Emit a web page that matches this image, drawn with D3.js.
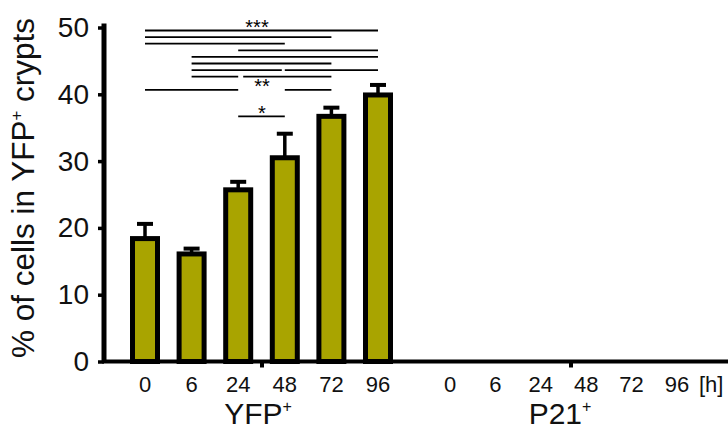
<html lang="en">
<head>
<meta charset="utf-8">
<title>YFP crypts</title>
<script src="https://d3js.org/d3.v7.min.js"></script>
<style>
  body { margin: 0; background: #fff; }
  svg { display: block; font-family: "Liberation Sans", Arial, sans-serif; }
</style>
</head>
<body>
<svg id="chart" width="728" height="431"></svg>
<script>
// hours, shared by both groups
var hours = ["0", "6", "24", "48", "72", "96"];
// YFP+ group: bar means and upper error
var yfpMean = [18.4, 16.1, 25.7, 30.5, 36.7, 39.9];
var yfpErr = [2.2, 0.8, 1.2, 3.6, 1.3, 1.5];
var yTicks = [0, 10, 20, 30, 40, 50];
// significance brackets: [from bar, to bar, row]
var sigLines = [
  ["0", "96", 0], ["0", "72", 1], ["0", "48", 2], ["24", "96", 3],
  ["6", "96", 4], ["6", "72", 5], ["6", "48", 6], ["48", "96", 6],
  ["6", "24", 7], ["24", "72", 7], ["0", "24", 9], ["48", "72", 9],
  ["24", "48", 13]
];
var sigLabels = [["***", 0, 257], ["**", 9, 262], ["*", 13, 262]];

var svg = d3.select("#chart");
var y = d3.scaleLinear().domain([0, 50]).range([361.5, 27.5]);
var xY = d3.scalePoint().domain(hours).range([145, 378]);
var xP = d3.scalePoint().domain(hours).range([450, 677]);
var rowY = function (r) { return 30.5 + r * 6.6; };

// y axis
var yAxis = svg.append("g").attr("transform", "translate(104,0)")
  .call(d3.axisLeft(y).tickValues(yTicks).tickSize(6).tickPadding(9));
yAxis.select(".domain").attr("stroke-width", 5).attr("d", "M0," + (y(50) - 4) + "V" + y(0));
yAxis.selectAll(".tick line").attr("stroke-width", 3.5);
yAxis.selectAll(".tick text").attr("font-size", 28).attr("fill", "#111")
  .attr("font-family", "Liberation Sans, Arial, sans-serif");

// y title
svg.append("text")
  .attr("transform", "translate(34,188) rotate(-90)")
  .attr("text-anchor", "middle")
  .attr("font-size", 31.5)
  .attr("fill", "#111")
  .html("% of cells in YFP<tspan dy='-12' font-size='17'>+</tspan><tspan dy='12'> crypts</tspan>");

// x axis line and group ticks
svg.append("line").attr("x1", 102).attr("x2", 728).attr("y1", y(0)).attr("y2", y(0))
  .attr("stroke", "#000").attr("stroke-width", 4);
[262, 571].forEach(function (gx) {
  svg.append("line").attr("x1", gx).attr("x2", gx).attr("y1", y(0)).attr("y2", y(0) + 6)
    .attr("stroke", "#000").attr("stroke-width", 4);
});

// error bars (upper only)
var eb = svg.append("g");
hours.forEach(function (h, i) {
  var cx = xY(h), top = y(yfpMean[i] + yfpErr[i]);
  eb.append("line").attr("x1", cx).attr("x2", cx).attr("y1", y(yfpMean[i])).attr("y2", top)
    .attr("stroke", "#000").attr("stroke-width", 3.5);
  eb.append("line").attr("x1", cx - 8).attr("x2", cx + 8).attr("y1", top).attr("y2", top)
    .attr("stroke", "#000").attr("stroke-width", 4);
});

// bars
svg.append("g").selectAll("rect").data(hours).enter().append("rect")
  .attr("x", function (d) { return xY(d) - 12.5; })
  .attr("width", 25)
  .attr("y", function (d, i) { return y(yfpMean[i]); })
  .attr("height", function (d, i) { return y(0) - y(yfpMean[i]); })
  .attr("fill", "#a9a400")
  .attr("stroke", "#000")
  .attr("stroke-width", 5);

// significance lines
svg.append("g").selectAll("line").data(sigLines).enter().append("line")
  .attr("x1", function (d) { return xY(d[0]) + (d[2] === 7 && d[0] === "24" ? 5 : 0); })
  .attr("x2", function (d) { return xY(d[1]) - (d[2] === 6 && d[1] === "48" ? 3 : 0); })
  .attr("y1", function (d) { return rowY(d[2]); })
  .attr("y2", function (d) { return rowY(d[2]); })
  .attr("stroke", "#000").attr("stroke-width", 1.8);
svg.append("g").selectAll("text").data(sigLabels).enter().append("text")
  .attr("x", function (d) { return d[2]; })
  .attr("y", function (d) { return rowY(d[1]) + 3.5; })
  .attr("text-anchor", "middle").attr("font-size", 20).attr("fill", "#000")
  .text(function (d) { return d[0]; });

// x tick labels
var labY = 392;
[xY, xP].forEach(function (sc) {
  svg.append("g").selectAll("text").data(hours).enter().append("text")
    .attr("x", function (d) { return sc(d); })
    .attr("y", labY)
    .attr("text-anchor", "middle").attr("font-size", 22).attr("fill", "#111")
    .text(function (d) { return d; });
});
svg.append("text").attr("x", xP("96") + 22).attr("y", labY).attr("font-size", 22).attr("fill", "#111").text("[h]");

// group labels
svg.append("text").attr("x", 258).attr("y", 424).attr("text-anchor", "middle")
  .attr("font-size", 30).attr("fill", "#111")
  .html("YFP<tspan dy='-12' font-size='16'>+</tspan>");
svg.append("text").attr("x", 560).attr("y", 424).attr("text-anchor", "middle")
  .attr("font-size", 30).attr("fill", "#111")
  .html("P21<tspan dy='-12' font-size='16'>+</tspan>");
</script>
</body>
</html>
